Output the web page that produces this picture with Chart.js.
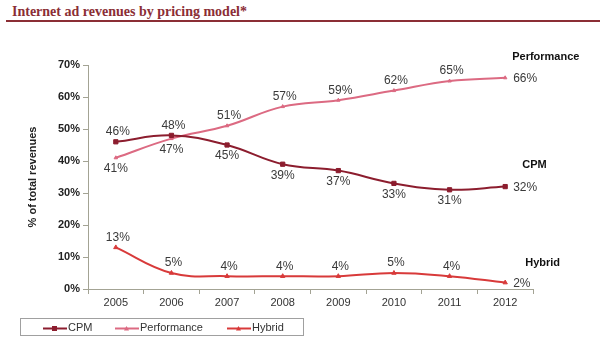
<!DOCTYPE html>
<html>
<head>
<meta charset="utf-8">
<script src="https://cdn.jsdelivr.net/npm/chart.js@4/dist/chart.umd.min.js"></script>
<style>
  html, body { margin: 0; padding: 0; background: #fff; }
  #wrap { position: relative; width: 600px; height: 350px; overflow: hidden; }
  #title { position: absolute; left: 12px; top: 3px; font: bold 14px "Liberation Serif", serif; color: #8b2e35; white-space: nowrap; transform: scaleY(1.1); transform-origin: left top; }
  #rule { position: absolute; left: 6px; right: 0; top: 20px; height: 2px; background: #8b2e35; }
  canvas { position: absolute; left: 0; top: 0; }
  #legend { position: absolute; left: 20px; top: 318px; width: 282px; height: 16px; border: 1px solid #a0a0a0; font: 11px Arial, "Liberation Sans", sans-serif; color: #333; }
  .item { position: absolute; top: 1px; line-height: 14px; white-space: nowrap; }
  .item svg { vertical-align: middle; margin-right: 1px; }
</style>
</head>
<body>
<div id="wrap">
  <div id="title">Internet ad revenues by pricing model*</div>
  <div id="rule"></div>
  <canvas id="chart" width="600" height="350"></canvas>
  <div id="legend"></div>
</div>
<script>
var years = ['2005', '2006', '2007', '2008', '2009', '2010', '2011', '2012'];
var cpm = [46, 48, 45, 39, 37, 33, 31, 32];
var performance = [41, 47, 51, 57, 59, 62, 65, 66];
var hybrid = [13, 5, 4, 4, 4, 5, 4, 2];
var seriesNames = ['CPM', 'Performance', 'Hybrid'];
var yTicks = [0, 10, 20, 30, 40, 50, 60, 70];

var colors = ['#8c1d2e', '#dc6a82', '#d83a3a'];
var markers = ['rect', 'triangle', 'triangle'];
var markerSize = [3, 2, 2.5];
// label placement per point: a = above, b = below, r = right
var placements = [
  ['a', 'a', 'b', 'b', 'b', 'b', 'b', 'r'],
  ['b', 'b', 'a', 'a', 'a', 'a', 'a', 'r'],
  ['a', 'a', 'a', 'a', 'a', 'a', 'a', 'r']
];
var nameOffsets = [[17, -22], [7, -21], [20, -20]];
var axisColor = '#a3a394';

var valueLabels = {
  id: 'valueLabels',
  afterDatasetsDraw: function (chart) {
    var ctx = chart.ctx;
    ctx.save();
    chart.data.datasets.forEach(function (ds, di) {
      var meta = chart.getDatasetMeta(di);
      meta.data.forEach(function (pt, i) {
        var txt = ds.data[i] + '%';
        var p = placements[di][i];
        ctx.font = '12px Arial, "Liberation Sans", sans-serif';
        ctx.fillStyle = '#3a3a3a';
        ctx.textBaseline = 'middle';
        if (p === 'r') {
          ctx.textAlign = 'left';
          ctx.fillText(txt, pt.x + 8, pt.y + 1);
        } else if (p === 'a') {
          ctx.textAlign = 'center';
          ctx.fillText(txt, pt.x + 2, pt.y - 10);
        } else {
          ctx.textAlign = 'center';
          ctx.fillText(txt, pt.x, pt.y + 11);
        }
      });
      var last = meta.data[meta.data.length - 1];
      ctx.font = 'bold 11px Arial, "Liberation Sans", sans-serif';
      ctx.fillStyle = '#111';
      ctx.textAlign = 'left';
      ctx.fillText(ds.label, last.x + nameOffsets[di][0], last.y + nameOffsets[di][1]);
    });
    ctx.restore();
  }
};

var seriesData = [cpm, performance, hybrid];
var datasets = seriesData.map(function (d, i) {
  return {
    label: seriesNames[i],
    data: d,
    borderColor: colors[i],
    backgroundColor: colors[i],
    borderWidth: 2,
    pointStyle: markers[i],
    pointRadius: markerSize[i],
    pointBorderWidth: 1,
    tension: 0.4
  };
});

new Chart(document.getElementById('chart'), {
  type: 'line',
  data: { labels: years, datasets: datasets },
  options: {
    responsive: false,
    animation: false,
    layout: { padding: { left: 0, top: 65, right: 67, bottom: 31 } },
    plugins: { legend: { display: false }, tooltip: { enabled: false } },
    scales: {
      x: {
        offset: true,
        grid: { offset: true, drawOnChartArea: false, tickLength: 5, color: axisColor },
        border: { color: axisColor, width: 1 },
        ticks: { color: '#333', font: { family: 'Arial, "Liberation Sans", sans-serif', size: 11 }, padding: 2 },
        afterFit: function (s) { s.height = 30; }
      },
      y: {
        min: 0,
        max: 70,
        afterBuildTicks: function (s) { s.ticks = yTicks.map(function (v) { return { value: v }; }); },
        grid: { drawOnChartArea: false, tickLength: 5, color: axisColor },
        border: { color: axisColor, width: 1 },
        ticks: {
          color: '#222',
          font: { family: 'Arial, "Liberation Sans", sans-serif', size: 11, weight: 'bold' },
          padding: 3,
          callback: function (v) { return v + '%'; }
        },
        title: {
          display: true,
          text: '% of total revenues',
          color: '#222',
          font: { family: 'Arial, "Liberation Sans", sans-serif', size: 11, weight: 'bold' },
          padding: { top: 26, bottom: 0 }
        },
        afterFit: function (s) { s.width = 88; }
      }
    }
  },
  plugins: [valueLabels]
});

// legend
var legend = document.getElementById('legend');
var legendX = [22, 94, 206];
seriesNames.forEach(function (name, i) {
  var span = document.createElement('span');
  span.className = 'item';
  span.style.left = legendX[i] + 'px';
  var mk = markers[i] === 'rect'
    ? '<rect x="9" y="4" width="5" height="5" fill="' + colors[i] + '"/>'
    : '<polygon points="11.5,4 14,8.5 9,8.5" fill="' + colors[i] + '"/>';
  span.innerHTML = '<svg width="24" height="13"><line x1="0" y1="6.5" x2="24" y2="6.5" stroke="' + colors[i] + '" stroke-width="2"/>' + mk + '</svg>' + name;
  legend.appendChild(span);
});
</script>
</body>
</html>
